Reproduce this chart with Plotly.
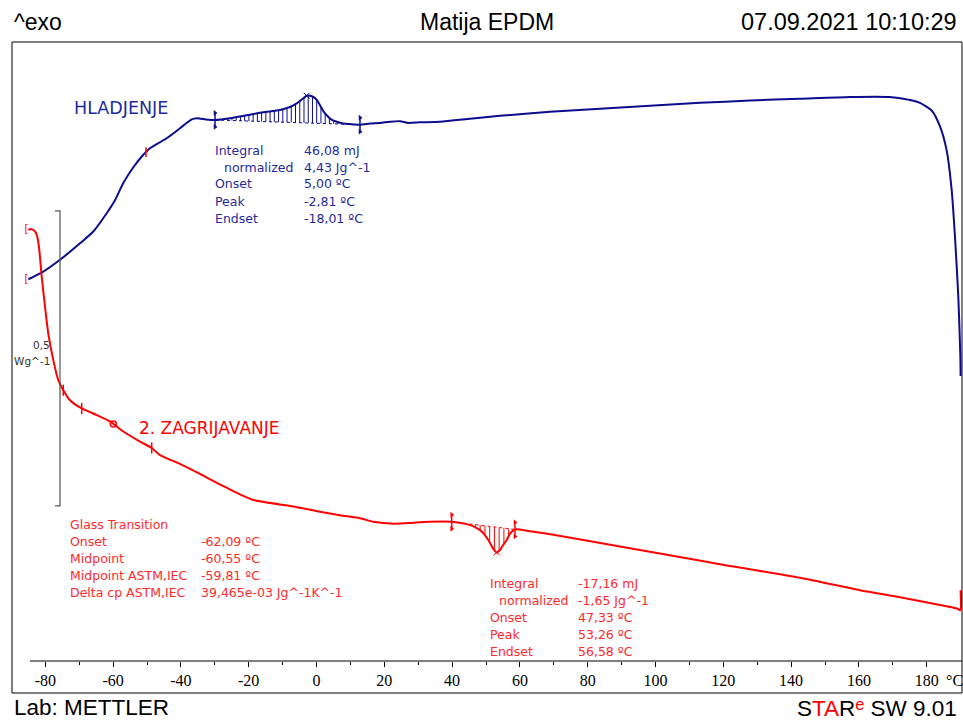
import numpy as np
import plotly.graph_objects as go

# ---------------- data ----------------
# Cooling run "HLADJENJE": temperature (degC) and heat flow (W/g, arbitrary offset)
cool_T = [-85.0, -80.59, -75.66, -69.76, -65.84, -61.89, -59.44, -56.99, -54.13, -51.09,
          -49.12, -44.19, -40.27, -36.81, -35.25, -32.60, -29.94, -25.52, -20.59, -15.78,
          -10.77, -7.82, -5.84, -4.28, -2.89, -1.92, -0.94, 0.06, 1.03, 2.01,
          3.01, 4.28, 5.96, 7.82, 9.88, 12.83, 15.78, 18.73, 21.68, 24.63,
          26.99, 30.53, 36.43, 45.28, 54.13, 68.88, 83.63, 98.38, 113.13, 127.88,
          142.63, 157.37, 169.17, 172.12, 175.07, 178.02, 181.47, 183.92, 185.90, 187.37,
          188.35, 189.32, 189.93, 190.0]
cool_Y = [0.647, 0.660, 0.680, 0.708, 0.728, 0.759, 0.781, 0.810, 0.836, 0.858,
          0.869, 0.886, 0.903, 0.918, 0.920, 0.918, 0.917, 0.920, 0.925, 0.930,
          0.934, 0.939, 0.945, 0.952, 0.958, 0.958, 0.956, 0.951, 0.942, 0.932,
          0.925, 0.918, 0.914, 0.911, 0.910, 0.909, 0.911, 0.912, 0.914, 0.915,
          0.912, 0.913, 0.914, 0.919, 0.924, 0.931, 0.936, 0.941, 0.946, 0.950,
          0.953, 0.956, 0.956, 0.954, 0.951, 0.946, 0.933, 0.906, 0.865, 0.798,
          0.718, 0.618, 0.517, 0.483]

# Second heating run "2. ZAGRIJAVANJE"
heat_T = [-85.01, -84.01, -83.04, -82.36, -81.77, -81.06, -80.09, -79.12, -77.64, -76.17,
          -74.69, -72.71, -69.26, -64.84, -60.91, -56.99, -52.07, -48.61, -46.17, -40.27,
          -34.37, -26.99, -18.64, -6.84, 1.03, 6.93, 12.83, 16.76, 21.68, 24.63,
          27.58, 33.48, 39.88, 44.31, 46.76, 48.82, 50.68, 52.07, 53.16, 54.13,
          55.10, 56.11, 57.08, 58.55, 62.98, 69.85, 89.53, 109.20, 119.03, 142.63,
          160.32, 172.12, 183.92, 188.94, 189.9, 190.0]
heat_Y = [0.731, 0.732, 0.728, 0.719, 0.697, 0.651, 0.601, 0.555, 0.510, 0.476,
          0.459, 0.442, 0.428, 0.417, 0.406, 0.389, 0.372, 0.361, 0.349, 0.334,
          0.317, 0.295, 0.273, 0.262, 0.253, 0.247, 0.242, 0.236, 0.233, 0.233,
          0.234, 0.236, 0.236, 0.232, 0.227, 0.219, 0.205, 0.191, 0.184, 0.188,
          0.197, 0.205, 0.216, 0.223, 0.220, 0.214, 0.194, 0.174, 0.164, 0.141,
          0.120, 0.108, 0.095, 0.089, 0.086, 0.120]

# evaluation limits / characteristic points (degC)
cool_limits = [-29.94, 12.83]
cool_peak = -2.89
heat_limits = [39.88, 58.55]
heat_peak = 53.16
gt_limit_marks = [-74.69, -69.26, -48.61]
gt_midpoint = -59.94
cool_red_mark = -50.29
scale_bar_T = -75.66
scale_bar_Y = [0.263, 0.763]   # 0,5 W/g

tick_vals = [-80, -60, -40, -20, 0, 20, 40, 60, 80, 100, 120, 140, 160, 180]
tick_text = ["-80", "-60", "-40", "-20", "0", "20", "40", "60", "80", "100", "120", "140", "160", "180"]
minor_vals = [-70, -50, -30, -10, 10, 30, 50, 70, 90, 110, 130, 150, 170]

cool_rows = ["Integral", "normalized", "Onset", "Peak", "Endset"]
cool_vals = ["46,08 mJ", "4,43 Jg^-1", "5,00 ºC", "-2,81 ºC", "-18,01 ºC"]
gt_rows = ["Glass Transition", "Onset", "Midpoint", "Midpoint ASTM,IEC", "Delta cp ASTM,IEC"]
gt_vals = ["", "-62,09 ºC", "-60,55 ºC", "-59,81 ºC", "39,465e-03 Jg^-1K^-1"]
heat_rows = ["Integral", "normalized", "Onset", "Peak", "Endset"]
heat_vals = ["-17,16 mJ", "-1,65 Jg^-1", "47,33 ºC", "53,26 ºC", "56,58 ºC"]

# ---------------- layout geometry ----------------
W, H = 963, 720
ML, MR, MT, MB = 20, 1, 42, 59
X0, K = 316.5, 3.39          # pixel of 0 degC, pixels per degC
PXW = 590.0                  # pixels per W/g
PW, PH = W - ML - MR, H - MT - MB


def px(x):
    return (x - ML) / PW


def py(y):
    return (H - MB - y) / PH


BLUE = "#0c0c8c"
BLUE_T = "#1f2a9c"
RED = "#ff0000"
RED_T = "#ff2a2a"

fig = go.Figure()

cT, cY = np.array(cool_T), np.array(cool_Y)
hT, hY = np.array(heat_T), np.array(heat_Y)


def hatch(Ts, Ys, t0, t1, step):
    y0, y1 = np.interp(t0, Ts, Ys), np.interp(t1, Ts, Ys)
    xs, ys = [], []
    for t in np.arange(t0 + step, t1 - 0.3, step):
        base = y0 + (y1 - y0) * (t - t0) / (t1 - t0)
        xs += [t, t, None]
        ys += [base, float(np.interp(t, Ts, Ys)), None]
    return xs, ys


# hatching of integrated areas
for Ts, Ys, lim, col, step in [(cT, cY, cool_limits, BLUE, 1.25), (hT, hY, heat_limits, RED, 1.4)]:
    hx, hy = hatch(Ts, Ys, lim[0], lim[1], step)
    fig.add_trace(go.Scatter(x=hx, y=hy, mode="lines", line=dict(color=col, width=1),
                             hoverinfo="skip", showlegend=False))
    fig.add_trace(go.Scatter(x=lim, y=[float(np.interp(lim[0], Ts, Ys)), float(np.interp(lim[1], Ts, Ys))],
                             mode="lines", line=dict(color=col, width=1, dash="dot"),
                             hoverinfo="skip", showlegend=False))

# curves
fig.add_trace(go.Scatter(x=cool_T, y=cool_Y, mode="lines",
                         line=dict(color=BLUE, width=2, shape="spline", smoothing=0.6),
                         showlegend=False, cliponaxis=False))
fig.add_trace(go.Scatter(x=heat_T, y=heat_Y, mode="lines",
                         line=dict(color=RED, width=2, shape="spline", smoothing=0.6),
                         showlegend=False, cliponaxis=False))

# limit markers (vertical bars with arrow tips)
dv = 7 / PXW
for Ts, Ys, lim, col in [(cT, cY, cool_limits, BLUE), (hT, hY, heat_limits, RED)]:
    for t in lim:
        yc = float(np.interp(t, Ts, Ys))
        fig.add_trace(go.Scatter(x=[t, t], y=[yc - dv, yc + dv], mode="lines+markers",
                                 line=dict(color=col, width=1.5),
                                 marker=dict(symbol="triangle-right", size=5, color=col),
                                 hoverinfo="skip", showlegend=False))

# peak markers
fig.add_trace(go.Scatter(x=[cool_peak], y=[float(np.interp(cool_peak, cT, cY))], mode="markers",
                         marker=dict(symbol="x-thin", size=6, color=BLUE, line=dict(color=BLUE, width=1)),
                         showlegend=False))
fig.add_trace(go.Scatter(x=[heat_peak], y=[float(np.interp(heat_peak, hT, hY))], mode="markers",
                         marker=dict(symbol="x-thin", size=6, color=RED, line=dict(color=RED, width=1)),
                         showlegend=False))

# glass transition marks
fig.add_trace(go.Scatter(x=gt_limit_marks, y=[float(np.interp(t, hT, hY)) for t in gt_limit_marks],
                         mode="markers",
                         marker=dict(symbol="line-ns", size=8, color=RED, line=dict(color=RED, width=1.5)),
                         showlegend=False))
fig.add_trace(go.Scatter(x=[gt_midpoint], y=[float(np.interp(gt_midpoint, hT, hY))],
                         mode="markers",
                         marker=dict(symbol="circle-open", size=6, color=RED, line=dict(color=RED, width=1.5)),
                         showlegend=False))
fig.add_trace(go.Scatter(x=[cool_red_mark], y=[float(np.interp(cool_red_mark, cT, cY))],
                         mode="markers",
                         marker=dict(symbol="line-ns", size=7, color=RED, line=dict(color=RED, width=1.5)),
                         showlegend=False))

# start brackets
fig.add_trace(go.Scatter(x=[heat_T[0], cool_T[0]], y=[heat_Y[0], cool_Y[0]], mode="text",
                         text=["[", "["], textposition="middle left",
                         textfont=dict(color=RED, size=10, family="DejaVu Sans"),
                         cliponaxis=False, showlegend=False))

# scale bar 0,5 W/g
tick_w = 5 / K
fig.add_trace(go.Scatter(x=[scale_bar_T - tick_w, scale_bar_T, scale_bar_T, scale_bar_T - tick_w],
                         y=[scale_bar_Y[1], scale_bar_Y[1], scale_bar_Y[0], scale_bar_Y[0]],
                         mode="lines", line=dict(color="#555555", width=1.2), showlegend=False))

# ---------------- frame and axis line ----------------
shapes = [
    dict(type="line", xref="paper", yref="paper", x0=px(12), x1=px(962), y0=py(42), y1=py(42),
         line=dict(color="#808080", width=2)),
    dict(type="line", xref="paper", yref="paper", x0=px(12), x1=px(12), y0=py(42), y1=py(693),
         line=dict(color="#000000", width=1)),
    dict(type="line", xref="paper", yref="paper", x0=px(962), x1=px(962), y0=py(42), y1=py(693),
         line=dict(color="#000000", width=1)),
    dict(type="line", xref="paper", yref="paper", x0=px(12), x1=px(962), y0=py(693), y1=py(693),
         line=dict(color="#000000", width=1)),
    dict(type="line", xref="paper", yref="paper", x0=px(30), x1=px(962), y0=0, y1=0,
         line=dict(color="#000000", width=1)),
]

ann = []


def text(x, y, s, color="#000000", size=12.5, family="DejaVu Sans", xanchor="left"):
    ann.append(dict(x=px(x), y=py(y), xref="paper", yref="paper", text=s, showarrow=False,
                    xanchor=xanchor, yanchor="middle", font=dict(color=color, size=size, family=family)))


HF = "Liberation Sans"
text(12, 22, "^exo", size=23, family=HF)
text(487, 22, "Matija EPDM", size=23, family=HF, xanchor="center")
text(959, 22, "07.09.2021 10:10:29", size=23.5, family=HF, xanchor="right")
text(12, 707, "Lab: METTLER", size=22.5, family=HF)
text(959, 707, "S<span style='color:#ff0000'>TA</span>R<span style='color:#ff0000;font-size:24px'>ᵉ</span> SW 9.01",
     size=22.5, family=HF, xanchor="right")
text(944, 680, "°C", size=16, family="Liberation Serif")

text(72, 108, "HLADJENJE", color=BLUE_T, size=17.5)
text(137, 428, "2. ZAGRIJAVANJE", color=RED, size=17)

text(52, 345, "0,5", color="#333333", size=10.5, xanchor="right")
text(52, 361, "Wg^-1", color="#333333", size=10.5, xanchor="right")

for i, (lab, val) in enumerate(zip(cool_rows, cool_vals)):
    y = 150 + i * 17
    text(222 if lab == "normalized" else 213, y, lab, color=BLUE_T)
    text(301.5, y, val, color=BLUE_T)
for i, (lab, val) in enumerate(zip(gt_rows, gt_vals)):
    y = 524 + i * 17
    text(67.5, y, lab, color=RED_T)
    if val:
        text(199, y, val, color=RED_T)
for i, (lab, val) in enumerate(zip(heat_rows, heat_vals)):
    y = 583 + i * 17
    text(497 if lab == "normalized" else 487.5, y, lab, color=RED_T)
    text(575.5, y, val, color=RED_T)

fig.update_layout(
    width=W, height=H, margin=dict(l=ML, r=MR, t=MT, b=MB, pad=0),
    plot_bgcolor="white", paper_bgcolor="white", showlegend=False,
    shapes=shapes, annotations=ann,
    xaxis=dict(range=[(ML - X0) / K, (W - MR - X0) / K], showgrid=False, zeroline=False, showline=False,
               tickmode="array", tickvals=tick_vals, ticktext=tick_text, ticks="outside", ticklen=5,
               tickcolor="black", tickwidth=1,
               tickfont=dict(family="Liberation Serif", size=16, color="black"),
               minor=dict(tickmode="array", tickvals=minor_vals, ticks="outside", ticklen=3,
                          tickcolor="black", tickwidth=1, showgrid=False),
               fixedrange=True),
    yaxis=dict(range=[0, PH / PXW], visible=False, showgrid=False, zeroline=False, fixedrange=True),
)

fig.write_html("out.html", config={"displayModeBar": False},
               post_script="document.body.style.margin='0';document.body.style.overflow='hidden';")
